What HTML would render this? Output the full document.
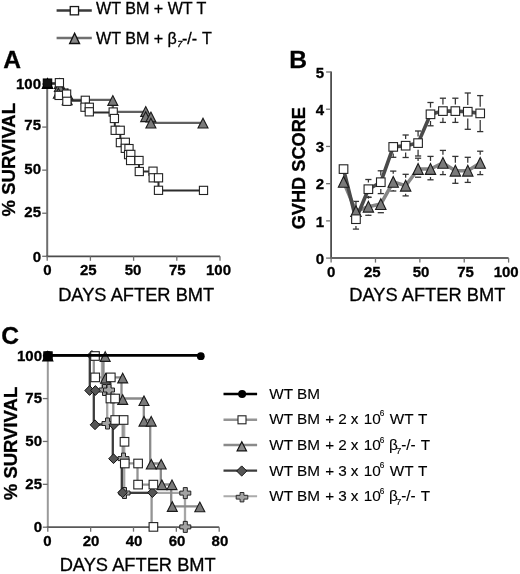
<!DOCTYPE html><html><head><meta charset="utf-8"><style>html,body{margin:0;padding:0;background:#fff;}svg{display:block;}text{font-family:"Liberation Sans",sans-serif;fill:#000;stroke:#000;stroke-width:0.3px;}svg{will-change:transform;}</style></head><body>
<svg width="520" height="574" viewBox="0 0 520 574">
<rect width="520" height="574" fill="#fff"/>
<line x1="56.6" y1="10.6" x2="91.8" y2="10.6" stroke="#3a3a3a" stroke-width="2.5"/>
<rect x="70.25" y="6.55" width="8.30" height="8.30" fill="#fff" stroke="#1a1a1a" stroke-width="1.3"/>
<line x1="56.6" y1="38.1" x2="91.8" y2="38.1" stroke="#707070" stroke-width="2.5"/>
<path d="M74.60,33.30 L79.50,43.50 L69.70,43.50 Z" fill="#888" stroke="#111" stroke-width="1.4" stroke-linejoin="miter"/>
<text x="96" y="13.8" font-size="16.1" font-weight="normal" text-anchor="start" >WT BM + WT T</text>
<text x="96" y="44.0" font-size="16.1" font-weight="normal" text-anchor="start" >WT BM +</text>
<text x="172.2" y="44.0" font-size="16.1" font-weight="normal" text-anchor="middle" >&#946;</text>
<text x="179.8" y="47.4" font-size="9.0" font-weight="normal" text-anchor="middle" font-style="italic">7</text>
<text x="189.6" y="44.0" font-size="16.1" font-weight="normal" text-anchor="middle" >-/-</text>
<text x="206.9" y="44.0" font-size="16.1" font-weight="normal" text-anchor="middle" >T</text>
<text x="3.3" y="68" font-size="24.6" font-weight="bold" text-anchor="start" >A</text>
<line x1="47.2" y1="83.5" x2="47.2" y2="256.3" stroke="#6e6e6e" stroke-width="2"/>
<line x1="46.2" y1="256.40000000000003" x2="220.0" y2="256.40000000000003" stroke="#4c4c4c" stroke-width="1.8"/>
<line x1="42.2" y1="256.30" x2="47.2" y2="256.30" stroke="#6e6e6e" stroke-width="1.3"/>
<text x="41.0" y="261.7" font-size="15" font-weight="bold" text-anchor="end" >0</text>
<line x1="47.20" y1="256.3" x2="47.20" y2="260.8" stroke="#6e6e6e" stroke-width="1.3"/>
<text x="47.35" y="274.9" font-size="15" font-weight="bold" text-anchor="middle" >0</text>
<line x1="42.2" y1="213.23" x2="47.2" y2="213.23" stroke="#6e6e6e" stroke-width="1.3"/>
<text x="41.0" y="217.3" font-size="15" font-weight="bold" text-anchor="end" >25</text>
<line x1="90.40" y1="256.3" x2="90.40" y2="260.8" stroke="#6e6e6e" stroke-width="1.3"/>
<text x="88.3" y="274.9" font-size="15" font-weight="bold" text-anchor="middle" >25</text>
<line x1="42.2" y1="170.15" x2="47.2" y2="170.15" stroke="#6e6e6e" stroke-width="1.3"/>
<text x="41.0" y="174.0" font-size="15" font-weight="bold" text-anchor="end" >50</text>
<line x1="133.60" y1="256.3" x2="133.60" y2="260.8" stroke="#6e6e6e" stroke-width="1.3"/>
<text x="133.0" y="274.9" font-size="15" font-weight="bold" text-anchor="middle" >50</text>
<line x1="42.2" y1="127.08" x2="47.2" y2="127.08" stroke="#6e6e6e" stroke-width="1.3"/>
<text x="41.0" y="129.9" font-size="15" font-weight="bold" text-anchor="end" >75</text>
<line x1="176.80" y1="256.3" x2="176.80" y2="260.8" stroke="#6e6e6e" stroke-width="1.3"/>
<text x="177.3" y="274.9" font-size="15" font-weight="bold" text-anchor="middle" >75</text>
<line x1="42.2" y1="84.00" x2="47.2" y2="84.00" stroke="#6e6e6e" stroke-width="1.3"/>
<text x="41.0" y="88.8" font-size="15" font-weight="bold" text-anchor="end" >100</text>
<line x1="220.00" y1="256.3" x2="220.00" y2="260.8" stroke="#6e6e6e" stroke-width="1.3"/>
<text x="218.5" y="274.9" font-size="15" font-weight="bold" text-anchor="middle" >100</text>
<text x="136.2" y="300.9" font-size="18.3" font-weight="normal" text-anchor="middle" >DAYS AFTER BMT</text>
<text transform="translate(15.0,159.7) rotate(-90)" x="0" y="0" font-size="18.5" font-weight="bold" text-anchor="middle">% SURVIVAL</text>
<path d="M47.5,83.5 H59 V89.5 H67.5 V99.8 H112.8 V111.8 H145.7 V117 H150.9 V122.9 H203" fill="none" stroke="#606060" stroke-width="2.3"/>
<path d="M47.5,83.5 H59.3 V95 H66.7 V100.8 H85.2 V107.2 H89.3 V112.4 H113.5 V118.5 H114.8 V130.3 H120.3 V142.5 H125.3 V148.4 H129 V154.6 H130.7 V160.5 H139 V171.5 H153 V177.8 H158.5 V190.6 H203.5" fill="none" stroke="#2c2c2c" stroke-width="2"/>
<path d="M59.40,78.60 L64.40,88.40 L54.40,88.40 Z" fill="#7a7a7a" stroke="#1a1a1a" stroke-width="1.1" stroke-linejoin="miter"/>
<path d="M59.40,81.70 L64.40,91.50 L54.40,91.50 Z" fill="#7a7a7a" stroke="#1a1a1a" stroke-width="1.1" stroke-linejoin="miter"/>
<path d="M58.40,88.30 L63.40,98.10 L53.40,98.10 Z" fill="#7a7a7a" stroke="#1a1a1a" stroke-width="1.1" stroke-linejoin="miter"/>
<path d="M67.70,89.50 L72.70,99.30 L62.70,99.30 Z" fill="#7a7a7a" stroke="#1a1a1a" stroke-width="1.1" stroke-linejoin="miter"/>
<path d="M67.20,94.90 L72.20,104.70 L62.20,104.70 Z" fill="#7a7a7a" stroke="#1a1a1a" stroke-width="1.1" stroke-linejoin="miter"/>
<path d="M112.80,95.60 L117.80,105.40 L107.80,105.40 Z" fill="#7a7a7a" stroke="#1a1a1a" stroke-width="1.1" stroke-linejoin="miter"/>
<path d="M145.70,106.60 L150.70,116.40 L140.70,116.40 Z" fill="#7a7a7a" stroke="#1a1a1a" stroke-width="1.1" stroke-linejoin="miter"/>
<path d="M145.70,111.80 L150.70,121.60 L140.70,121.60 Z" fill="#7a7a7a" stroke="#1a1a1a" stroke-width="1.1" stroke-linejoin="miter"/>
<path d="M150.90,112.10 L155.90,121.90 L145.90,121.90 Z" fill="#7a7a7a" stroke="#1a1a1a" stroke-width="1.1" stroke-linejoin="miter"/>
<path d="M150.90,118.20 L155.90,128.00 L145.90,128.00 Z" fill="#7a7a7a" stroke="#1a1a1a" stroke-width="1.1" stroke-linejoin="miter"/>
<path d="M203.00,118.20 L208.00,128.00 L198.00,128.00 Z" fill="#7a7a7a" stroke="#1a1a1a" stroke-width="1.1" stroke-linejoin="miter"/>
<rect x="55.30" y="78.60" width="8.20" height="8.20" fill="#fff" stroke="#222" stroke-width="1.1"/>
<rect x="55.00" y="91.30" width="8.20" height="8.20" fill="#fff" stroke="#222" stroke-width="1.1"/>
<rect x="62.50" y="90.00" width="8.20" height="8.20" fill="#fff" stroke="#222" stroke-width="1.1"/>
<rect x="62.80" y="97.20" width="8.20" height="8.20" fill="#fff" stroke="#222" stroke-width="1.1"/>
<rect x="81.20" y="96.20" width="8.20" height="8.20" fill="#fff" stroke="#222" stroke-width="1.1"/>
<rect x="80.90" y="103.10" width="8.20" height="8.20" fill="#fff" stroke="#222" stroke-width="1.1"/>
<rect x="85.20" y="103.20" width="8.20" height="8.20" fill="#fff" stroke="#222" stroke-width="1.1"/>
<rect x="85.20" y="107.70" width="8.20" height="8.20" fill="#fff" stroke="#222" stroke-width="1.1"/>
<rect x="109.10" y="107.90" width="8.20" height="8.20" fill="#fff" stroke="#222" stroke-width="1.1"/>
<rect x="110.30" y="114.40" width="8.20" height="8.20" fill="#fff" stroke="#222" stroke-width="1.1"/>
<rect x="111.10" y="126.20" width="8.20" height="8.20" fill="#fff" stroke="#222" stroke-width="1.1"/>
<rect x="116.10" y="126.20" width="8.20" height="8.20" fill="#fff" stroke="#222" stroke-width="1.1"/>
<rect x="116.30" y="138.50" width="8.20" height="8.20" fill="#fff" stroke="#222" stroke-width="1.1"/>
<rect x="121.20" y="138.20" width="8.20" height="8.20" fill="#fff" stroke="#222" stroke-width="1.1"/>
<rect x="121.20" y="144.20" width="8.20" height="8.20" fill="#fff" stroke="#222" stroke-width="1.1"/>
<rect x="124.90" y="144.50" width="8.20" height="8.20" fill="#fff" stroke="#222" stroke-width="1.1"/>
<rect x="124.50" y="150.50" width="8.20" height="8.20" fill="#fff" stroke="#222" stroke-width="1.1"/>
<rect x="126.70" y="150.30" width="8.20" height="8.20" fill="#fff" stroke="#222" stroke-width="1.1"/>
<rect x="126.50" y="156.40" width="8.20" height="8.20" fill="#fff" stroke="#222" stroke-width="1.1"/>
<rect x="134.90" y="156.40" width="8.20" height="8.20" fill="#fff" stroke="#222" stroke-width="1.1"/>
<rect x="135.20" y="167.40" width="8.20" height="8.20" fill="#fff" stroke="#222" stroke-width="1.1"/>
<rect x="148.90" y="167.10" width="8.20" height="8.20" fill="#fff" stroke="#222" stroke-width="1.1"/>
<rect x="149.10" y="173.70" width="8.20" height="8.20" fill="#fff" stroke="#222" stroke-width="1.1"/>
<rect x="154.40" y="173.70" width="8.20" height="8.20" fill="#fff" stroke="#222" stroke-width="1.1"/>
<rect x="154.40" y="186.20" width="8.20" height="8.20" fill="#fff" stroke="#222" stroke-width="1.1"/>
<rect x="199.40" y="186.30" width="8.20" height="8.20" fill="#fff" stroke="#222" stroke-width="1.1"/>
<path d="M47.50,78.50 L52.75,88.50 L42.25,88.50 Z" fill="#111" stroke="#000" stroke-width="1.1" stroke-linejoin="miter"/>
<rect x="43.30" y="79.00" width="8.40" height="8.40" fill="#111" stroke="#000" stroke-width="1.1"/>
<text x="289.3" y="68" font-size="24.6" font-weight="bold" text-anchor="start" >B</text>
<line x1="331.1" y1="71.5" x2="331.1" y2="258.1" stroke="#4e4e4e" stroke-width="1.8"/>
<line x1="330.20000000000005" y1="258.1" x2="508.6" y2="258.1" stroke="#646464" stroke-width="2"/>
<line x1="326.1" y1="258.10" x2="331.1" y2="258.10" stroke="#6e6e6e" stroke-width="1.3"/>
<text x="324.2" y="263.90000000000003" font-size="15" font-weight="bold" text-anchor="end" >0</text>
<line x1="326.1" y1="220.88" x2="331.1" y2="220.88" stroke="#6e6e6e" stroke-width="1.3"/>
<text x="324.2" y="226.68000000000004" font-size="15" font-weight="bold" text-anchor="end" >1</text>
<line x1="326.1" y1="183.66" x2="331.1" y2="183.66" stroke="#6e6e6e" stroke-width="1.3"/>
<text x="324.2" y="189.46000000000004" font-size="15" font-weight="bold" text-anchor="end" >2</text>
<line x1="326.1" y1="146.44" x2="331.1" y2="146.44" stroke="#6e6e6e" stroke-width="1.3"/>
<text x="324.2" y="152.24000000000004" font-size="15" font-weight="bold" text-anchor="end" >3</text>
<line x1="326.1" y1="109.22" x2="331.1" y2="109.22" stroke="#6e6e6e" stroke-width="1.3"/>
<text x="324.2" y="115.02000000000002" font-size="15" font-weight="bold" text-anchor="end" >4</text>
<line x1="326.1" y1="72.00" x2="331.1" y2="72.00" stroke="#6e6e6e" stroke-width="1.3"/>
<text x="324.2" y="77.80000000000003" font-size="15" font-weight="bold" text-anchor="end" >5</text>
<line x1="331.10" y1="258.1" x2="331.10" y2="262.6" stroke="#6e6e6e" stroke-width="1.3"/>
<text x="331.2" y="276.6" font-size="15" font-weight="bold" text-anchor="middle" >0</text>
<line x1="375.48" y1="258.1" x2="375.48" y2="262.6" stroke="#6e6e6e" stroke-width="1.3"/>
<text x="372.3" y="276.6" font-size="15" font-weight="bold" text-anchor="middle" >25</text>
<line x1="419.85" y1="258.1" x2="419.85" y2="262.6" stroke="#6e6e6e" stroke-width="1.3"/>
<text x="421.0" y="276.6" font-size="15" font-weight="bold" text-anchor="middle" >50</text>
<line x1="464.23" y1="258.1" x2="464.23" y2="262.6" stroke="#6e6e6e" stroke-width="1.3"/>
<text x="465.5" y="276.6" font-size="15" font-weight="bold" text-anchor="middle" >75</text>
<line x1="508.60" y1="258.1" x2="508.60" y2="262.6" stroke="#6e6e6e" stroke-width="1.3"/>
<text x="506.2" y="276.6" font-size="15" font-weight="bold" text-anchor="middle" >100</text>
<text x="427.3" y="300.9" font-size="18.3" font-weight="normal" text-anchor="middle" >DAYS AFTER BMT</text>
<text transform="translate(305.2,168.2) rotate(-90)" x="0" y="0" font-size="18.2" font-weight="bold" text-anchor="middle">GVHD SCORE</text>
<line x1="368.38" y1="197.2" x2="368.38" y2="198.65" stroke="#333" stroke-width="1.25"/><line x1="365.27" y1="197.2" x2="371.48" y2="197.2" stroke="#333" stroke-width="1.3"/><line x1="368.38" y1="215.3" x2="368.38" y2="214.75" stroke="#333" stroke-width="1.25"/><line x1="365.27" y1="215.3" x2="371.48" y2="215.3" stroke="#333" stroke-width="1.3"/><line x1="380.80" y1="212.7" x2="380.80" y2="212.15" stroke="#333" stroke-width="1.25"/><line x1="377.70" y1="212.7" x2="383.90" y2="212.7" stroke="#333" stroke-width="1.3"/><line x1="393.23" y1="171.1" x2="393.23" y2="173.85" stroke="#333" stroke-width="1.25"/><line x1="390.12" y1="171.1" x2="396.33" y2="171.1" stroke="#333" stroke-width="1.3"/><line x1="393.23" y1="191.0" x2="393.23" y2="189.95" stroke="#333" stroke-width="1.25"/><line x1="390.12" y1="191.0" x2="396.33" y2="191.0" stroke="#333" stroke-width="1.3"/><line x1="405.65" y1="174.3" x2="405.65" y2="177.65" stroke="#333" stroke-width="1.25"/><line x1="402.55" y1="174.3" x2="408.75" y2="174.3" stroke="#333" stroke-width="1.3"/><line x1="405.65" y1="195.9" x2="405.65" y2="193.75" stroke="#333" stroke-width="1.25"/><line x1="402.55" y1="195.9" x2="408.75" y2="195.9" stroke="#333" stroke-width="1.3"/><line x1="418.08" y1="158.2" x2="418.08" y2="160.95" stroke="#333" stroke-width="1.25"/><line x1="414.98" y1="158.2" x2="421.18" y2="158.2" stroke="#333" stroke-width="1.3"/><line x1="418.08" y1="177.2" x2="418.08" y2="177.05" stroke="#333" stroke-width="1.25"/><line x1="414.98" y1="177.2" x2="421.18" y2="177.2" stroke="#333" stroke-width="1.3"/><line x1="430.50" y1="156.4" x2="430.50" y2="160.95" stroke="#333" stroke-width="1.25"/><line x1="427.40" y1="156.4" x2="433.60" y2="156.4" stroke="#333" stroke-width="1.3"/><line x1="430.50" y1="179.8" x2="430.50" y2="177.05" stroke="#333" stroke-width="1.25"/><line x1="427.40" y1="179.8" x2="433.60" y2="179.8" stroke="#333" stroke-width="1.3"/><line x1="442.93" y1="150.4" x2="442.93" y2="154.85" stroke="#333" stroke-width="1.25"/><line x1="439.82" y1="150.4" x2="446.03" y2="150.4" stroke="#333" stroke-width="1.3"/><line x1="442.93" y1="174.6" x2="442.93" y2="170.95" stroke="#333" stroke-width="1.25"/><line x1="439.82" y1="174.6" x2="446.03" y2="174.6" stroke="#333" stroke-width="1.3"/><line x1="455.35" y1="156.4" x2="455.35" y2="162.65" stroke="#333" stroke-width="1.25"/><line x1="452.25" y1="156.4" x2="458.45" y2="156.4" stroke="#333" stroke-width="1.3"/><line x1="455.35" y1="183.3" x2="455.35" y2="178.75" stroke="#333" stroke-width="1.25"/><line x1="452.25" y1="183.3" x2="458.45" y2="183.3" stroke="#333" stroke-width="1.3"/><line x1="467.77" y1="157.3" x2="467.77" y2="162.65" stroke="#333" stroke-width="1.25"/><line x1="464.67" y1="157.3" x2="470.88" y2="157.3" stroke="#333" stroke-width="1.3"/><line x1="467.77" y1="182.4" x2="467.77" y2="178.75" stroke="#333" stroke-width="1.25"/><line x1="464.67" y1="182.4" x2="470.88" y2="182.4" stroke="#333" stroke-width="1.3"/><line x1="480.20" y1="151.2" x2="480.20" y2="154.85" stroke="#333" stroke-width="1.25"/><line x1="477.10" y1="151.2" x2="483.30" y2="151.2" stroke="#333" stroke-width="1.3"/><line x1="480.20" y1="174.6" x2="480.20" y2="170.95" stroke="#333" stroke-width="1.25"/><line x1="477.10" y1="174.6" x2="483.30" y2="174.6" stroke="#333" stroke-width="1.3"/>
<line x1="355.95" y1="201.4" x2="355.95" y2="212.50" stroke="#333" stroke-width="1.25"/><line x1="352.85" y1="201.4" x2="359.05" y2="201.4" stroke="#333" stroke-width="1.3"/><line x1="355.95" y1="229.1" x2="355.95" y2="225.90" stroke="#333" stroke-width="1.25"/><line x1="352.85" y1="229.1" x2="359.05" y2="229.1" stroke="#333" stroke-width="1.3"/><line x1="368.38" y1="179.5" x2="368.38" y2="182.50" stroke="#333" stroke-width="1.25"/><line x1="365.27" y1="179.5" x2="371.48" y2="179.5" stroke="#333" stroke-width="1.3"/><line x1="368.38" y1="197.4" x2="368.38" y2="195.90" stroke="#333" stroke-width="1.25"/><line x1="365.27" y1="197.4" x2="371.48" y2="197.4" stroke="#333" stroke-width="1.3"/><line x1="380.80" y1="170.8" x2="380.80" y2="175.50" stroke="#333" stroke-width="1.25"/><line x1="377.70" y1="170.8" x2="383.90" y2="170.8" stroke="#333" stroke-width="1.3"/><line x1="380.80" y1="193.6" x2="380.80" y2="188.90" stroke="#333" stroke-width="1.25"/><line x1="377.70" y1="193.6" x2="383.90" y2="193.6" stroke="#333" stroke-width="1.3"/><line x1="393.23" y1="157.3" x2="393.23" y2="153.60" stroke="#333" stroke-width="1.25"/><line x1="390.12" y1="157.3" x2="396.33" y2="157.3" stroke="#333" stroke-width="1.3"/><line x1="405.65" y1="135" x2="405.65" y2="139.00" stroke="#333" stroke-width="1.25"/><line x1="402.55" y1="135" x2="408.75" y2="135" stroke="#333" stroke-width="1.3"/><line x1="405.65" y1="157.5" x2="405.65" y2="152.40" stroke="#333" stroke-width="1.25"/><line x1="402.55" y1="157.5" x2="408.75" y2="157.5" stroke="#333" stroke-width="1.3"/><line x1="418.08" y1="131" x2="418.08" y2="136.40" stroke="#333" stroke-width="1.25"/><line x1="414.98" y1="131" x2="421.18" y2="131" stroke="#333" stroke-width="1.3"/><line x1="418.08" y1="156" x2="418.08" y2="149.80" stroke="#333" stroke-width="1.25"/><line x1="414.98" y1="156" x2="421.18" y2="156" stroke="#333" stroke-width="1.3"/><line x1="430.50" y1="102.5" x2="430.50" y2="107.60" stroke="#333" stroke-width="1.25"/><line x1="427.40" y1="102.5" x2="433.60" y2="102.5" stroke="#333" stroke-width="1.3"/><line x1="430.50" y1="125.8" x2="430.50" y2="121.00" stroke="#333" stroke-width="1.25"/><line x1="427.40" y1="125.8" x2="433.60" y2="125.8" stroke="#333" stroke-width="1.3"/><line x1="442.93" y1="98.2" x2="442.93" y2="104.40" stroke="#333" stroke-width="1.25"/><line x1="439.82" y1="98.2" x2="446.03" y2="98.2" stroke="#333" stroke-width="1.3"/><line x1="442.93" y1="122.4" x2="442.93" y2="117.80" stroke="#333" stroke-width="1.25"/><line x1="439.82" y1="122.4" x2="446.03" y2="122.4" stroke="#333" stroke-width="1.3"/><line x1="455.35" y1="98.2" x2="455.35" y2="104.40" stroke="#333" stroke-width="1.25"/><line x1="452.25" y1="98.2" x2="458.45" y2="98.2" stroke="#333" stroke-width="1.3"/><line x1="455.35" y1="122.4" x2="455.35" y2="117.80" stroke="#333" stroke-width="1.25"/><line x1="452.25" y1="122.4" x2="458.45" y2="122.4" stroke="#333" stroke-width="1.3"/><line x1="467.77" y1="93" x2="467.77" y2="105.00" stroke="#333" stroke-width="1.25"/><line x1="464.67" y1="93" x2="470.88" y2="93" stroke="#333" stroke-width="1.3"/><line x1="467.77" y1="129.3" x2="467.77" y2="118.40" stroke="#333" stroke-width="1.25"/><line x1="464.67" y1="129.3" x2="470.88" y2="129.3" stroke="#333" stroke-width="1.3"/><line x1="480.20" y1="95.6" x2="480.20" y2="106.70" stroke="#333" stroke-width="1.25"/><line x1="477.10" y1="95.6" x2="483.30" y2="95.6" stroke="#333" stroke-width="1.3"/><line x1="480.20" y1="131.6" x2="480.20" y2="120.10" stroke="#333" stroke-width="1.25"/><line x1="477.10" y1="131.6" x2="483.30" y2="131.6" stroke="#333" stroke-width="1.3"/>
<polyline points="343.53,181.9 355.95,211.1 368.38,206.7 380.80,204.1 393.23,181.9 405.65,185.7 418.08,169.0 430.50,169.0 442.93,162.9 455.35,170.7 467.77,170.7 480.20,162.9" fill="none" stroke="#858585" stroke-width="3.6" stroke-linejoin="round"/>
<polyline points="343.53,169.1 355.95,219.2 368.38,189.2 380.80,182.2 393.23,146.9 405.65,145.7 418.08,143.1 430.50,114.3 442.93,111.1 455.35,111.1 467.77,111.7 480.20,113.4" fill="none" stroke="#4a4a4a" stroke-width="3.6" stroke-linejoin="round"/>
<path d="M343.53,176.50 L348.73,187.30 L338.33,187.30 Z" fill="#7a7a7a" stroke="#1a1a1a" stroke-width="1.1" stroke-linejoin="miter"/>
<path d="M355.95,205.70 L361.15,216.50 L350.75,216.50 Z" fill="#7a7a7a" stroke="#1a1a1a" stroke-width="1.1" stroke-linejoin="miter"/>
<path d="M368.38,201.30 L373.57,212.10 L363.18,212.10 Z" fill="#7a7a7a" stroke="#1a1a1a" stroke-width="1.1" stroke-linejoin="miter"/>
<path d="M380.80,198.70 L386.00,209.50 L375.60,209.50 Z" fill="#7a7a7a" stroke="#1a1a1a" stroke-width="1.1" stroke-linejoin="miter"/>
<path d="M393.23,176.50 L398.43,187.30 L388.03,187.30 Z" fill="#7a7a7a" stroke="#1a1a1a" stroke-width="1.1" stroke-linejoin="miter"/>
<path d="M405.65,180.30 L410.85,191.10 L400.45,191.10 Z" fill="#7a7a7a" stroke="#1a1a1a" stroke-width="1.1" stroke-linejoin="miter"/>
<path d="M418.08,163.60 L423.28,174.40 L412.88,174.40 Z" fill="#7a7a7a" stroke="#1a1a1a" stroke-width="1.1" stroke-linejoin="miter"/>
<path d="M430.50,163.60 L435.70,174.40 L425.30,174.40 Z" fill="#7a7a7a" stroke="#1a1a1a" stroke-width="1.1" stroke-linejoin="miter"/>
<path d="M442.93,157.50 L448.12,168.30 L437.73,168.30 Z" fill="#7a7a7a" stroke="#1a1a1a" stroke-width="1.1" stroke-linejoin="miter"/>
<path d="M455.35,165.30 L460.55,176.10 L450.15,176.10 Z" fill="#7a7a7a" stroke="#1a1a1a" stroke-width="1.1" stroke-linejoin="miter"/>
<path d="M467.77,165.30 L472.97,176.10 L462.57,176.10 Z" fill="#7a7a7a" stroke="#1a1a1a" stroke-width="1.1" stroke-linejoin="miter"/>
<path d="M480.20,157.50 L485.40,168.30 L475.00,168.30 Z" fill="#7a7a7a" stroke="#1a1a1a" stroke-width="1.1" stroke-linejoin="miter"/>
<rect x="339.23" y="164.80" width="8.60" height="8.60" fill="#fff" stroke="#222" stroke-width="1.1"/>
<rect x="351.65" y="214.90" width="8.60" height="8.60" fill="#fff" stroke="#222" stroke-width="1.1"/>
<rect x="364.07" y="184.90" width="8.60" height="8.60" fill="#fff" stroke="#222" stroke-width="1.1"/>
<rect x="376.50" y="177.90" width="8.60" height="8.60" fill="#fff" stroke="#222" stroke-width="1.1"/>
<rect x="388.93" y="142.60" width="8.60" height="8.60" fill="#fff" stroke="#222" stroke-width="1.1"/>
<rect x="401.35" y="141.40" width="8.60" height="8.60" fill="#fff" stroke="#222" stroke-width="1.1"/>
<rect x="413.78" y="138.80" width="8.60" height="8.60" fill="#fff" stroke="#222" stroke-width="1.1"/>
<rect x="426.20" y="110.00" width="8.60" height="8.60" fill="#fff" stroke="#222" stroke-width="1.1"/>
<rect x="438.62" y="106.80" width="8.60" height="8.60" fill="#fff" stroke="#222" stroke-width="1.1"/>
<rect x="451.05" y="106.80" width="8.60" height="8.60" fill="#fff" stroke="#222" stroke-width="1.1"/>
<rect x="463.47" y="107.40" width="8.60" height="8.60" fill="#fff" stroke="#222" stroke-width="1.1"/>
<rect x="475.90" y="109.10" width="8.60" height="8.60" fill="#fff" stroke="#222" stroke-width="1.1"/>
<text x="1.3" y="344.3" font-size="24.6" font-weight="bold" text-anchor="start" >C</text>
<line x1="47.8" y1="355.5" x2="47.8" y2="527.2" stroke="#9a9a9a" stroke-width="2"/>
<line x1="46.8" y1="527.2" x2="219.2" y2="527.2" stroke="#585858" stroke-width="1.8"/>
<line x1="42.8" y1="527.20" x2="47.8" y2="527.20" stroke="#6e6e6e" stroke-width="1.3"/>
<text x="42.0" y="532.0" font-size="15" font-weight="bold" text-anchor="end" >0</text>
<line x1="42.8" y1="484.33" x2="47.8" y2="484.33" stroke="#6e6e6e" stroke-width="1.3"/>
<text x="42.0" y="489.12500000000006" font-size="15" font-weight="bold" text-anchor="end" >25</text>
<line x1="42.8" y1="441.45" x2="47.8" y2="441.45" stroke="#6e6e6e" stroke-width="1.3"/>
<text x="42.0" y="446.25000000000006" font-size="15" font-weight="bold" text-anchor="end" >50</text>
<line x1="42.8" y1="398.58" x2="47.8" y2="398.58" stroke="#6e6e6e" stroke-width="1.3"/>
<text x="42.0" y="403.37500000000006" font-size="15" font-weight="bold" text-anchor="end" >75</text>
<line x1="42.8" y1="355.70" x2="47.8" y2="355.70" stroke="#6e6e6e" stroke-width="1.3"/>
<text x="42.0" y="360.50000000000006" font-size="15" font-weight="bold" text-anchor="end" >100</text>
<line x1="47.80" y1="527.2" x2="47.80" y2="531.7" stroke="#6e6e6e" stroke-width="1.3"/>
<text x="47.3" y="546.4" font-size="15" font-weight="bold" text-anchor="middle" >0</text>
<line x1="90.65" y1="527.2" x2="90.65" y2="531.7" stroke="#6e6e6e" stroke-width="1.3"/>
<text x="91.1" y="546.4" font-size="15" font-weight="bold" text-anchor="middle" >20</text>
<line x1="133.50" y1="527.2" x2="133.50" y2="531.7" stroke="#6e6e6e" stroke-width="1.3"/>
<text x="134.0" y="546.4" font-size="15" font-weight="bold" text-anchor="middle" >40</text>
<line x1="176.35" y1="527.2" x2="176.35" y2="531.7" stroke="#6e6e6e" stroke-width="1.3"/>
<text x="177.1" y="546.4" font-size="15" font-weight="bold" text-anchor="middle" >60</text>
<line x1="219.20" y1="527.2" x2="219.20" y2="531.7" stroke="#6e6e6e" stroke-width="1.3"/>
<text x="219.9" y="546.4" font-size="15" font-weight="bold" text-anchor="middle" >80</text>
<text x="137.7" y="571.3" font-size="18.3" font-weight="normal" text-anchor="middle" >DAYS AFTER BMT</text>
<text transform="translate(16.9,443.5) rotate(-90)" x="0" y="0" font-size="18.5" font-weight="bold" text-anchor="middle">% SURVIVAL</text>
<path d="M47.8,355.5 H102 V390 H107.2 V424 H124.2 V458.5 V492.9 H185 V527" fill="none" stroke="#a6a6a6" stroke-width="2.3"/>
<path d="M47.8,355.5 H89.8 V390.3 H93.8 V424.5 H112.8 V458.7 H121.8 V492.8 H152.5" fill="none" stroke="#3c3c3c" stroke-width="2.3"/>
<path d="M47.8,355.5 H103.5 V377.4 H121.5 V398.5 H143.8 V420 H150.2 V463.5 H160.8 V484.5 H171.2 V506.3 H200" fill="none" stroke="#8a8a8a" stroke-width="2.3"/>
<path d="M47.8,355.5 H93.8 V377.4 H110.5 V398.5 H113.3 V420.3 H122.7 V442 V463.4 H137.5 V484.7 H151.6 V527" fill="none" stroke="#949494" stroke-width="2.3"/>
<path d="M102.50,384.50 H106.50 V388.00 H110.00 V392.00 H106.50 V395.50 H102.50 V392.00 H99.00 V388.00 H102.50 Z" fill="#a3a3a3" stroke="#222" stroke-width="1"/>
<path d="M107.00,384.50 H111.00 V388.00 H114.50 V392.00 H111.00 V395.50 H107.00 V392.00 H103.50 V388.00 H107.00 Z" fill="#a3a3a3" stroke="#222" stroke-width="1"/>
<path d="M105.50,418.00 H109.50 V421.50 H113.00 V425.50 H109.50 V429.00 H105.50 V425.50 H102.00 V421.50 H105.50 Z" fill="#a3a3a3" stroke="#222" stroke-width="1"/>
<path d="M121.50,453.10 H125.50 V456.60 H129.00 V460.60 H125.50 V464.10 H121.50 V460.60 H118.00 V456.60 H121.50 Z" fill="#a3a3a3" stroke="#222" stroke-width="1"/>
<path d="M122.50,487.50 H126.50 V491.00 H130.00 V495.00 H126.50 V498.50 H122.50 V495.00 H119.00 V491.00 H122.50 Z" fill="#a3a3a3" stroke="#222" stroke-width="1"/>
<path d="M183.30,487.60 H187.30 V491.10 H190.80 V495.10 H187.30 V498.60 H183.30 V495.10 H179.80 V491.10 H183.30 Z" fill="#a3a3a3" stroke="#222" stroke-width="1"/>
<path d="M183.30,521.40 H187.30 V524.90 H190.80 V528.90 H187.30 V532.40 H183.30 V528.90 H179.80 V524.90 H183.30 Z" fill="#a3a3a3" stroke="#222" stroke-width="1"/>
<path d="M91.90,350.60 L96.70,355.50 L91.90,360.40 L87.10,355.50 Z" fill="#555" stroke="#111" stroke-width="1"/>
<path d="M89.60,385.60 L94.40,390.50 L89.60,395.40 L84.80,390.50 Z" fill="#555" stroke="#111" stroke-width="1"/>
<path d="M95.40,385.60 L100.20,390.50 L95.40,395.40 L90.60,390.50 Z" fill="#555" stroke="#111" stroke-width="1"/>
<path d="M95.00,419.90 L99.80,424.80 L95.00,429.70 L90.20,424.80 Z" fill="#555" stroke="#111" stroke-width="1"/>
<path d="M113.80,419.90 L118.60,424.80 L113.80,429.70 L109.00,424.80 Z" fill="#555" stroke="#111" stroke-width="1"/>
<path d="M113.50,453.80 L118.30,458.70 L113.50,463.60 L108.70,458.70 Z" fill="#555" stroke="#111" stroke-width="1"/>
<path d="M122.50,487.90 L127.30,492.80 L122.50,497.70 L117.70,492.80 Z" fill="#555" stroke="#111" stroke-width="1"/>
<path d="M152.40,487.70 L157.20,492.60 L152.40,497.50 L147.60,492.60 Z" fill="#555" stroke="#111" stroke-width="1"/>
<path d="M105.20,351.80 L110.20,361.40 L100.20,361.40 Z" fill="#7a7a7a" stroke="#1a1a1a" stroke-width="1.1" stroke-linejoin="miter"/>
<path d="M105.60,373.50 L110.60,383.10 L100.60,383.10 Z" fill="#7a7a7a" stroke="#1a1a1a" stroke-width="1.1" stroke-linejoin="miter"/>
<path d="M122.70,373.30 L127.70,382.90 L117.70,382.90 Z" fill="#7a7a7a" stroke="#1a1a1a" stroke-width="1.1" stroke-linejoin="miter"/>
<path d="M122.70,394.80 L127.70,404.40 L117.70,404.40 Z" fill="#7a7a7a" stroke="#1a1a1a" stroke-width="1.1" stroke-linejoin="miter"/>
<path d="M144.00,395.90 L149.00,405.50 L139.00,405.50 Z" fill="#7a7a7a" stroke="#1a1a1a" stroke-width="1.1" stroke-linejoin="miter"/>
<path d="M144.00,416.50 L149.00,426.10 L139.00,426.10 Z" fill="#7a7a7a" stroke="#1a1a1a" stroke-width="1.1" stroke-linejoin="miter"/>
<path d="M151.20,416.50 L156.20,426.10 L146.20,426.10 Z" fill="#7a7a7a" stroke="#1a1a1a" stroke-width="1.1" stroke-linejoin="miter"/>
<path d="M151.30,459.40 L156.30,469.00 L146.30,469.00 Z" fill="#7a7a7a" stroke="#1a1a1a" stroke-width="1.1" stroke-linejoin="miter"/>
<path d="M161.20,459.40 L166.20,469.00 L156.20,469.00 Z" fill="#7a7a7a" stroke="#1a1a1a" stroke-width="1.1" stroke-linejoin="miter"/>
<path d="M161.90,480.00 L166.90,489.60 L156.90,489.60 Z" fill="#7a7a7a" stroke="#1a1a1a" stroke-width="1.1" stroke-linejoin="miter"/>
<path d="M172.00,480.00 L177.00,489.60 L167.00,489.60 Z" fill="#7a7a7a" stroke="#1a1a1a" stroke-width="1.1" stroke-linejoin="miter"/>
<path d="M172.30,501.80 L177.30,511.40 L167.30,511.40 Z" fill="#7a7a7a" stroke="#1a1a1a" stroke-width="1.1" stroke-linejoin="miter"/>
<path d="M199.80,502.10 L204.80,511.70 L194.80,511.70 Z" fill="#7a7a7a" stroke="#1a1a1a" stroke-width="1.1" stroke-linejoin="miter"/>
<rect x="90.70" y="351.70" width="8.60" height="8.60" fill="#fff" stroke="#222" stroke-width="1.1"/>
<rect x="90.90" y="373.10" width="8.60" height="8.60" fill="#fff" stroke="#222" stroke-width="1.1"/>
<rect x="106.50" y="373.10" width="8.60" height="8.60" fill="#fff" stroke="#222" stroke-width="1.1"/>
<rect x="106.10" y="394.20" width="8.60" height="8.60" fill="#fff" stroke="#222" stroke-width="1.1"/>
<rect x="110.80" y="394.20" width="8.60" height="8.60" fill="#fff" stroke="#222" stroke-width="1.1"/>
<rect x="110.90" y="415.70" width="8.60" height="8.60" fill="#fff" stroke="#222" stroke-width="1.1"/>
<rect x="119.30" y="415.70" width="8.60" height="8.60" fill="#fff" stroke="#222" stroke-width="1.1"/>
<rect x="120.20" y="437.50" width="8.60" height="8.60" fill="#fff" stroke="#222" stroke-width="1.1"/>
<rect x="120.50" y="459.20" width="8.60" height="8.60" fill="#fff" stroke="#222" stroke-width="1.1"/>
<rect x="133.80" y="459.20" width="8.60" height="8.60" fill="#fff" stroke="#222" stroke-width="1.1"/>
<rect x="133.80" y="480.30" width="8.60" height="8.60" fill="#fff" stroke="#222" stroke-width="1.1"/>
<rect x="149.10" y="480.30" width="8.60" height="8.60" fill="#fff" stroke="#222" stroke-width="1.1"/>
<rect x="149.10" y="522.60" width="8.60" height="8.60" fill="#fff" stroke="#222" stroke-width="1.1"/>
<line x1="47.8" y1="355.4" x2="200.8" y2="355.4" stroke="#000" stroke-width="2.6"/>
<circle cx="200.8" cy="356.2" r="3.9" fill="#000"/>
<path d="M47.80,351.40 L52.90,361.00 L42.70,361.00 Z" fill="#111" stroke="#000" stroke-width="1.1" stroke-linejoin="miter"/>
<rect x="43.80" y="351.80" width="8.40" height="8.40" fill="#111" stroke="#000" stroke-width="1"/>
<circle cx="47.8" cy="355.8" r="4.8" fill="#000"/>
<line x1="223.5" y1="394" x2="257.1" y2="394" stroke="#000" stroke-width="2.4"/>
<circle cx="242.1" cy="394" r="4" fill="#000"/>
<line x1="223.5" y1="419.8" x2="257.1" y2="419.8" stroke="#949494" stroke-width="2.4"/>
<rect x="238.00" y="415.80" width="8.00" height="8.00" fill="#fff" stroke="#222" stroke-width="1.1"/>
<line x1="223.5" y1="445" x2="257.1" y2="445" stroke="#8a8a8a" stroke-width="2.6"/>
<path d="M241.80,441.80 L246.50,450.80 L237.10,450.80 Z" fill="#8a8a8a" stroke="#111" stroke-width="1.2" stroke-linejoin="miter"/>
<line x1="223.5" y1="470.6" x2="257.1" y2="470.6" stroke="#3c3c3c" stroke-width="2.4"/>
<path d="M241.70,465.90 L246.80,471.00 L241.70,476.10 L236.60,471.00 Z" fill="#555" stroke="#111" stroke-width="1"/>
<line x1="223.5" y1="496.3" x2="257.1" y2="496.3" stroke="#ababab" stroke-width="2"/>
<path d="M240.10,492.50 H243.90 V495.30 H247.80 V499.10 H243.90 V501.90 H240.10 V499.10 H236.20 V495.30 H240.10 Z" fill="#a3a3a3" stroke="#2a2a2a" stroke-width="1"/>
<text x="294.6" y="398.7" font-size="15.3" text-anchor="middle" style="stroke-width:0.12px">WT BM</text>
<text x="294.6" y="424.0" font-size="15.3" text-anchor="middle" style="stroke-width:0.12px">WT BM</text>
<text x="329.8" y="424.0" font-size="15.3" text-anchor="middle" style="stroke-width:0.12px">+</text>
<text x="342.5" y="424.0" font-size="15.3" text-anchor="middle" style="stroke-width:0.12px">2</text>
<text x="354.6" y="424.0" font-size="15.3" text-anchor="middle" style="stroke-width:0.12px">x</text>
<text x="372.2" y="424.0" font-size="15.3" text-anchor="middle" style="stroke-width:0.12px">10</text>
<text x="382.1" y="416.4" font-size="8.3" text-anchor="middle" style="stroke-width:0.12px">6</text>
<text x="401.7" y="424.0" font-size="15.3" text-anchor="middle" style="stroke-width:0.12px">WT</text>
<text x="422.8" y="424.0" font-size="15.3" text-anchor="middle" style="stroke-width:0.12px">T</text>
<text x="294.6" y="450.2" font-size="15.3" text-anchor="middle" style="stroke-width:0.12px">WT BM</text>
<text x="329.8" y="450.2" font-size="15.3" text-anchor="middle" style="stroke-width:0.12px">+</text>
<text x="342.5" y="450.2" font-size="15.3" text-anchor="middle" style="stroke-width:0.12px">2</text>
<text x="354.6" y="450.2" font-size="15.3" text-anchor="middle" style="stroke-width:0.12px">x</text>
<text x="372.2" y="450.2" font-size="15.3" text-anchor="middle" style="stroke-width:0.12px">10</text>
<text x="382.1" y="442.59999999999997" font-size="8.3" text-anchor="middle" style="stroke-width:0.12px">6</text>
<text x="393.4" y="450.2" font-size="15.3" text-anchor="middle" style="stroke-width:0.12px">&#946;</text>
<text x="398.6" y="454.2" font-size="9.5" text-anchor="middle" style="stroke-width:0.12px">7</text>
<text x="408.4" y="450.2" font-size="15.3" text-anchor="middle" style="stroke-width:0.12px">-/-</text>
<text x="425.5" y="450.2" font-size="15.3" text-anchor="middle" style="stroke-width:0.12px">T</text>
<text x="294.6" y="475.7" font-size="15.3" text-anchor="middle" style="stroke-width:0.12px">WT BM</text>
<text x="329.8" y="475.7" font-size="15.3" text-anchor="middle" style="stroke-width:0.12px">+</text>
<text x="342.5" y="475.7" font-size="15.3" text-anchor="middle" style="stroke-width:0.12px">3</text>
<text x="354.6" y="475.7" font-size="15.3" text-anchor="middle" style="stroke-width:0.12px">x</text>
<text x="372.2" y="475.7" font-size="15.3" text-anchor="middle" style="stroke-width:0.12px">10</text>
<text x="382.1" y="468.09999999999997" font-size="8.3" text-anchor="middle" style="stroke-width:0.12px">6</text>
<text x="401.7" y="475.7" font-size="15.3" text-anchor="middle" style="stroke-width:0.12px">WT</text>
<text x="422.8" y="475.7" font-size="15.3" text-anchor="middle" style="stroke-width:0.12px">T</text>
<text x="294.6" y="501.2" font-size="15.3" text-anchor="middle" style="stroke-width:0.12px">WT BM</text>
<text x="329.8" y="501.2" font-size="15.3" text-anchor="middle" style="stroke-width:0.12px">+</text>
<text x="342.5" y="501.2" font-size="15.3" text-anchor="middle" style="stroke-width:0.12px">3</text>
<text x="354.6" y="501.2" font-size="15.3" text-anchor="middle" style="stroke-width:0.12px">x</text>
<text x="372.2" y="501.2" font-size="15.3" text-anchor="middle" style="stroke-width:0.12px">10</text>
<text x="382.1" y="493.59999999999997" font-size="8.3" text-anchor="middle" style="stroke-width:0.12px">6</text>
<text x="393.4" y="501.2" font-size="15.3" text-anchor="middle" style="stroke-width:0.12px">&#946;</text>
<text x="398.6" y="505.2" font-size="9.5" text-anchor="middle" style="stroke-width:0.12px">7</text>
<text x="408.4" y="501.2" font-size="15.3" text-anchor="middle" style="stroke-width:0.12px">-/-</text>
<text x="425.5" y="501.2" font-size="15.3" text-anchor="middle" style="stroke-width:0.12px">T</text>
</svg></body></html>
